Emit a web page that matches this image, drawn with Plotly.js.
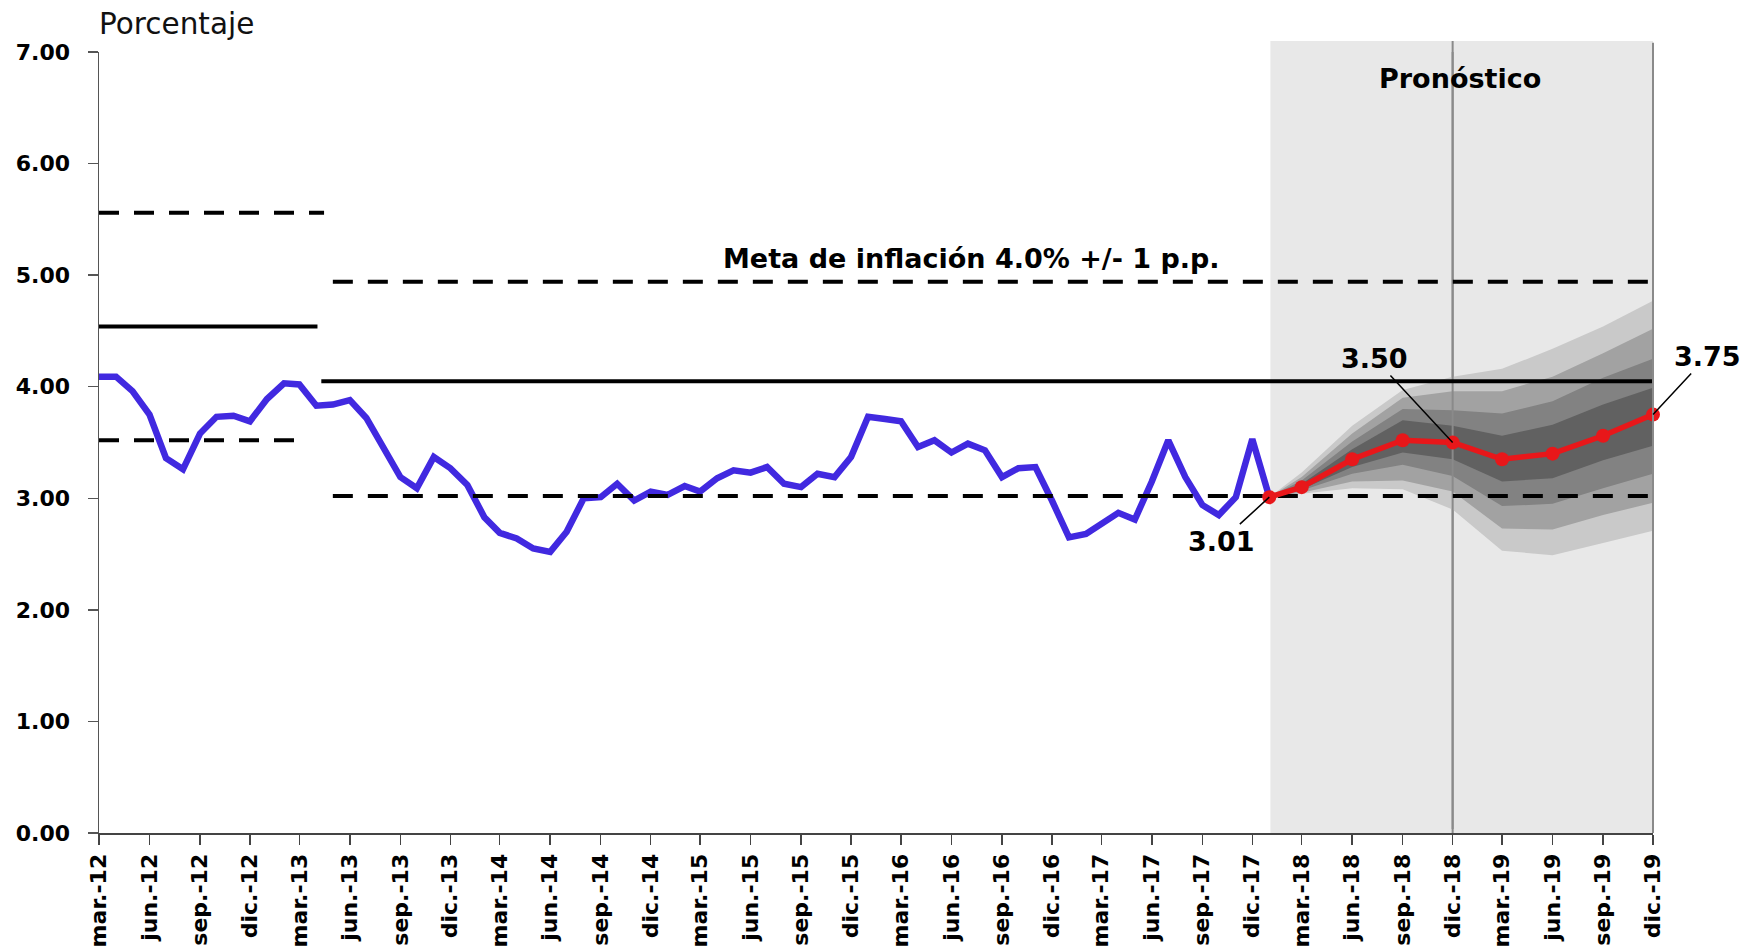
<!DOCTYPE html>
<html>
<head>
<meta charset="utf-8">
<script src="https://cdn.plot.ly/plotly-3.0.1.min.js"></script>
<style>
  html, body { margin: 0; padding: 0; background: #fff; }
  #chart { width: 1744px; height: 950px; }
</style>
</head>
<body>
<div id="chart"></div>
<script>
// Inflación observada, mensual desde mar-12 hasta ene-18
const inflacion = [
    4.09, 4.09, 3.96, 3.75, 3.36, 3.26, 3.58, 3.73, 3.74, 3.69,
    3.89, 4.03, 4.02, 3.83, 3.84, 3.88, 3.72, 3.44, 3.19, 3.09,
    3.37, 3.27, 3.12, 2.83, 2.69, 2.64, 2.55, 2.52, 2.70, 3.00,
    3.01, 3.13, 2.98, 3.06, 3.03, 3.11, 3.06, 3.18, 3.25, 3.23,
    3.28, 3.13, 3.10, 3.22, 3.19, 3.37, 3.73, 3.71, 3.69, 3.46,
    3.52, 3.41, 3.49, 3.43, 3.19, 3.27, 3.28, 2.98, 2.65, 2.68,
    2.77, 2.87, 2.81, 3.15, 3.52, 3.19, 2.94, 2.85, 3.01, 3.53,
    3.01
];

// Pronóstico trimestral y bandas del abanico
const pronFechas = [ '2018-01-01', '2018-03-01', '2018-06-01', '2018-09-01', '2018-12-01',
                     '2019-03-01', '2019-06-01', '2019-09-01', '2019-12-01' ];
const pronostico = [ 3.01, 3.10, 3.35, 3.52, 3.50, 3.35, 3.40, 3.56, 3.75 ];

const banda90Sup = [ 3.01, 3.23, 3.65, 3.97, 4.09, 4.16, 4.34, 4.54, 4.77 ];
const banda70Sup = [ 3.01, 3.19, 3.58, 3.90, 3.96, 3.96, 4.09, 4.30, 4.52 ];
const banda50Sup = [ 3.01, 3.16, 3.51, 3.80, 3.79, 3.76, 3.87, 4.08, 4.25 ];
const banda30Sup = [ 3.01, 3.13, 3.44, 3.70, 3.65, 3.56, 3.66, 3.84, 3.99 ];
const banda30Inf = [ 3.01, 3.08, 3.28, 3.41, 3.35, 3.15, 3.18, 3.34, 3.47 ];
const banda50Inf = [ 3.01, 3.07, 3.22, 3.30, 3.20, 2.93, 2.95, 3.09, 3.22 ];
const banda70Inf = [ 3.01, 3.05, 3.15, 3.16, 3.06, 2.73, 2.72, 2.85, 2.96 ];
const banda90Inf = [ 3.01, 3.04, 3.09, 3.08, 2.90, 2.53, 2.49, 2.60, 2.71 ];

// Meta de inflación por periodo
const meta1 = { centro: 4.54, sup: 5.56, inf: 3.52 };
const meta2 = { centro: 4.05, sup: 4.94, inf: 3.02 };
const meta1Fin = { centro: '2013-04-03', sup: '2013-04-15', inf: '2013-03-01' };
const meta2Inicio = { centro: '2013-04-10', bandas: '2013-05-01' };

const tickLabels = [
    'mar.-12', 'jun.-12', 'sep.-12', 'dic.-12', 'mar.-13', 'jun.-13', 'sep.-13', 'dic.-13',
    'mar.-14', 'jun.-14', 'sep.-14', 'dic.-14', 'mar.-15', 'jun.-15', 'sep.-15', 'dic.-15',
    'mar.-16', 'jun.-16', 'sep.-16', 'dic.-16', 'mar.-17', 'jun.-17', 'sep.-17', 'dic.-17',
    'mar.-18', 'jun.-18', 'sep.-18', 'dic.-18', 'mar.-19', 'jun.-19', 'sep.-19', 'dic.-19'
];

const mesNum = { ene: 1, feb: 2, mar: 3, abr: 4, may: 5, jun: 6, jul: 7, ago: 8, sep: 9, oct: 10, nov: 11, dic: 12 };
const pad = ( n ) => String( n ).padStart( 2, '0' );

const tickVals = tickLabels.map( ( l ) => {
    const [ m, y ] = l.split( '.-' );
    return `20${ y }-${ pad( mesNum[ m ] ) }-01`;
} );

const histFechas = inflacion.map( ( v, i ) => {
    const k = 2 + i; // marzo 2012 = índice 2
    return `${ 2012 + Math.floor( k / 12 ) }-${ pad( k % 12 + 1 ) }-01`;
} );

const inicio = tickVals[ 0 ];
const fin = tickVals[ tickVals.length - 1 ];
const corteDic18 = '2018-12-01';

const bold = { family: 'DejaVu Sans', size: 27, color: '#000', weight: 'bold' };

function banda( sup, inf, color ) {
    return {
        type: 'scatter',
        x: pronFechas.concat( pronFechas.slice().reverse() ),
        y: sup.concat( inf.slice().reverse() ),
        fill: 'toself',
        fillcolor: color,
        line: { width: 0 },
        mode: 'lines',
        hoverinfo: 'skip'
    };
}

function linea( x, y, dash ) {
    return {
        type: 'scatter', mode: 'lines',
        x: x, y: [ y, y ],
        line: { color: '#000', width: 4, dash: dash ? '20px,15px' : 'solid' }
    };
}

const data = [
    banda( banda90Sup, banda90Inf, '#c9c9c9' ),
    banda( banda70Sup, banda70Inf, '#a2a2a2' ),
    banda( banda50Sup, banda50Inf, '#828282' ),
    banda( banda30Sup, banda30Inf, '#616161' ),
    {
        type: 'scatter', mode: 'lines',
        x: [ corteDic18, corteDic18 ], y: [ 0, 7 ],
        line: { color: '#8a8a8a', width: 2 }
    },
    {
        type: 'scatter', mode: 'lines',
        name: 'Inflación',
        x: histFechas, y: inflacion,
        line: { color: '#4129e0', width: 6.5 }
    },
    linea( [ inicio, meta1Fin.sup ], meta1.sup, true ),
    linea( [ inicio, meta1Fin.centro ], meta1.centro, false ),
    linea( [ inicio, meta1Fin.inf ], meta1.inf, true ),
    linea( [ meta2Inicio.bandas, fin ], meta2.sup, true ),
    linea( [ meta2Inicio.centro, fin ], meta2.centro, false ),
    linea( [ meta2Inicio.bandas, fin ], meta2.inf, true ),
    {
        type: 'scatter', mode: 'lines+markers',
        name: 'Pronóstico',
        x: pronFechas, y: pronostico,
        line: { color: '#e8171a', width: 5.5 },
        marker: { color: '#e8171a', size: 14 },
        cliponaxis: false
    }
];

function etiqueta( i, ax, ay ) {
    return {
        x: pronFechas[ i ], y: pronostico[ i ],
        text: pronostico[ i ].toFixed( 2 ),
        showarrow: true, arrowhead: 0, arrowwidth: 1.5, arrowcolor: '#000',
        ax: ax, ay: ay,
        font: bold
    };
}

const layout = {
    width: 1744,
    height: 950,
    margin: { l: 99, r: 91, t: 52, b: 117 },
    paper_bgcolor: '#fff',
    plot_bgcolor: 'rgba(0,0,0,0)',
    showlegend: false,
    font: { family: 'DejaVu Sans', color: '#000' },
    xaxis: {
        type: 'date',
        range: [ inicio, fin ],
        tickvals: tickVals,
        ticktext: tickLabels,
        tickangle: -90,
        tickfont: { family: 'DejaVu Sans', size: 22, color: '#000', weight: 'bold' },
        ticks: 'outside', ticklen: 10, tickcolor: '#444', tickwidth: 1.5,
        showline: true, linecolor: '#444', linewidth: 2,
        showgrid: false, zeroline: false
    },
    yaxis: {
        range: [ 0, 7 ],
        dtick: 1,
        tickformat: '.2f',
        tickfont: { family: 'DejaVu Sans', size: 22, color: '#000', weight: 'bold' },
        ticks: 'outside', ticklen: 10, tickcolor: '#555', tickwidth: 1.5,
        ticklabelstandoff: 13,
        showline: true, linecolor: '#555', linewidth: 1.5,
        showgrid: false, zeroline: false
    },
    shapes: [
        {
            type: 'rect', layer: 'below',
            xref: 'x', yref: 'paper',
            x0: '2018-01-03', x1: '2019-12-04', y0: 0, y1: 1.014,
            fillcolor: '#e8e8e8', line: { width: 0 }
        },
        {
            type: 'line', layer: 'below',
            xref: 'x', yref: 'paper',
            x0: corteDic18, x1: corteDic18, y0: 0.005, y1: 1.014,
            line: { color: '#8a8a8a', width: 2 }
        },
        {
            type: 'line', layer: 'above',
            xref: 'paper', yref: 'paper',
            x0: 1, x1: 1, y0: 0, y1: 1.012,
            line: { color: '#8a8a8a', width: 2 }
        }
    ],
    annotations: [
        {
            xref: 'paper', yref: 'paper', x: -0.001, y: 1.036,
            xanchor: 'left', yanchor: 'middle',
            text: 'Porcentaje', showarrow: false,
            font: { family: 'DejaVu Sans', size: 29.5, color: '#111' }
        },
        {
            x: '2018-12-15', y: 6.76,
            text: 'Pronóstico', showarrow: false,
            font: bold
        },
        {
            x: '2016-07-07', y: 5.15,
            text: 'Meta de inflación 4.0% +/- 1 p.p.', showarrow: false,
            font: bold
        },
        etiqueta( 0, -48, 44 ),
        etiqueta( 4, -78, -84 ),
        etiqueta( 8, 54, -58 )
    ]
};

Plotly.newPlot( 'chart', data, layout, { displayModeBar: false, staticPlot: true } );
</script>
</body>
</html>
